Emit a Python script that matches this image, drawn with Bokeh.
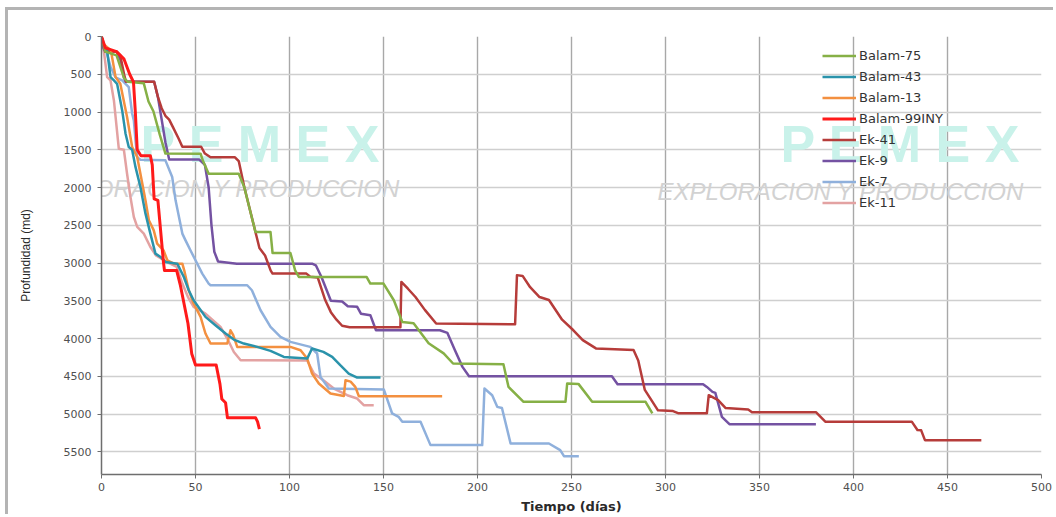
from bokeh.plotting import figure
from bokeh.models import Range1d, Legend, LegendItem, Label, FixedTicker
from bokeh.embed import file_html
from bokeh.resources import INLINE

# ---- data (days, measured depth md) ----
balam75_t = [0, 2, 8, 12, 14, 22.5, 25, 27.6, 31, 34, 52.7, 54, 57, 73, 76, 79, 81.9, 89.9, 91, 100.5, 103, 105,
             141, 143, 150, 155.5, 160, 166, 174, 182, 187, 213.8, 216.5, 224.5, 246.8, 247.7, 253.7, 261, 289.4, 293]
balam75_d = [0, 200, 250, 550, 600, 620, 860, 990, 1300, 1550, 1552, 1650, 1817, 1817, 2000, 2300, 2589, 2589, 2867, 2867, 3096, 3184,
             3184, 3272, 3272, 3493, 3780, 3797, 4063, 4196, 4330, 4340, 4640, 4838, 4838, 4595, 4600, 4838, 4838, 4992]

balam43_t = [0, 1, 3, 4.8, 6.6, 8.3, 11, 12.8, 14.5, 16.3, 18.1, 20.7, 23.4, 26, 28.7, 31.4, 34, 40.3, 43.8, 46.4, 49,
             55.3, 60.6, 66, 70.4, 75.7, 82.8, 89.9, 97, 109.4, 112, 118, 122.7, 127, 131.5, 136, 148.4]
balam43_d = [0, 100, 185, 538, 582, 626, 979, 1288, 1464, 1500, 1730, 1993, 2346, 2610, 2875, 2919, 2985, 3008, 3184, 3360, 3493,
             3713, 3823, 3933, 4013, 4066, 4110, 4163, 4243, 4265, 4132, 4176, 4243, 4353, 4463, 4516, 4516]

balam13_t = [0, 1, 5, 7.5, 10, 13.6, 16.3, 19, 20.7, 23.4, 25.2, 27.8, 29.6, 33, 35, 38.5, 43, 44, 46.4, 49, 52.7, 55.3, 58,
             66.9, 68.6, 70, 72.2, 100.5, 105.9, 109.4, 112, 115.6, 121.8, 128.9, 129.8, 132.5, 135, 136.9, 181.2]
balam13_d = [0, 100, 185, 538, 626, 1067, 1464, 1596, 1817, 2170, 2434, 2567, 2743, 2831, 2963, 3008, 3008, 3096, 3360, 3536, 3713, 3933, 4066,
             4066, 3890, 3950, 4110, 4110, 4154, 4265, 4463, 4595, 4728, 4760, 4552, 4570, 4640, 4763, 4763]

balam99_t = [0, 2, 8, 12, 15, 17, 18, 19, 21, 26, 27, 28, 30, 33, 33.5, 40, 42, 46, 48, 50, 61, 63, 64, 66, 67, 82, 83, 84]
balam99_d = [0, 150, 200, 300, 500, 600, 1000, 1500, 1580, 1580, 1700, 2150, 2170, 3000, 3100, 3100, 3300, 3800, 4200, 4350, 4350,
             4600, 4800, 4850, 5050, 5050, 5100, 5200]

ek41_t = [0, 1, 2, 8, 10, 12, 13, 28, 30, 32, 34, 36, 38, 41, 43, 53, 55, 58, 71, 73, 76, 81, 84, 87, 90, 91, 109, 111, 115,
          119, 122, 125, 128, 132, 159, 159.5, 163, 167, 172, 178, 220, 221, 224, 228, 233, 238, 245, 251, 256, 263, 283,
          285.5, 289, 296, 304, 307, 322, 323, 328, 332, 344, 346, 380, 385, 431, 434, 436, 438, 468]
ek41_d = [0, 100, 200, 200, 250, 500, 600, 600, 800, 950, 1050, 1100, 1200, 1350, 1460, 1460, 1550, 1600, 1600, 1650, 2000, 2500,
          2800, 2900, 3100, 3140, 3140, 3180, 3190, 3490, 3650, 3750, 3830, 3850, 3850, 3250, 3340, 3450, 3620, 3800, 3810, 3160,
          3170, 3320, 3450, 3490, 3750, 3890, 4020, 4130, 4150, 4290, 4680, 4950, 4960, 4990, 4990, 4750, 4816, 4920, 4940, 4975,
          4975, 5100, 5100, 5210, 5215, 5345, 5345]

ek9_t = [0, 1, 2, 8, 10, 12, 13, 28, 30, 32, 34, 36, 52, 55, 57, 58.5, 60, 62, 72, 112, 114, 117, 122, 128, 131, 136, 138,
         143, 146, 180, 184, 188, 192, 195.5, 271.5, 274.5, 320, 322, 325, 326.5, 330, 334, 380]
ek9_d = [0, 150, 200, 200, 300, 550, 600, 600, 800, 1100, 1400, 1630, 1630, 1700, 2000, 2500, 2850, 2980, 3008, 3008, 3030, 3184,
         3500, 3510, 3572, 3580, 3670, 3690, 3890, 3890, 3925, 4154, 4375, 4500, 4500, 4604, 4604, 4640, 4706, 4720, 5036, 5133, 5133]

ek7_t = [0, 2, 4.8, 7.4, 11, 14.5, 16.3, 17.2, 18.1, 19, 20.7, 34, 37.6, 39.4, 43, 44.7, 47.3, 50, 53.6, 57, 58, 77.5, 80,
         84.6, 89.9, 95.2, 100.5, 111, 114.7, 116.5, 120.9, 150.2, 154.6, 158, 160, 169.7, 175, 202.5, 203.7, 207.8, 210.5,
         213, 217.6, 238, 244, 246, 253.9]
ek7_d = [0, 150, 400, 540, 580, 670, 1020, 1110, 1380, 1600, 1632, 1640, 1861, 2170, 2610, 2700, 2831, 2963, 3140, 3272, 3294,
         3294, 3360, 3625, 3846, 3978, 4044, 4110, 4198, 4507, 4662, 4675, 4992, 5036, 5102, 5102, 5411, 5411, 4662, 4750, 4904,
         4920, 5389, 5389, 5477, 5557, 5557]

ek11_t = [0, 0.5, 1.2, 3, 4.8, 6.6, 9.2, 11.9, 13.6, 15.4, 17.2, 19, 22.5, 26, 29, 32.3, 36, 40, 43, 46, 49, 55.3, 63.3,
          66.9, 70.4, 74, 109.4, 113, 118, 123.6, 130.7, 136, 139.5, 144.8]
ek11_d = [0, 100, 185, 538, 582, 847, 1486, 1500, 1817, 2125, 2390, 2522, 2610, 2787, 2900, 2950, 3000, 3050, 3272, 3450, 3581,
          3669, 3846, 4000, 4177, 4287, 4290, 4463, 4552, 4662, 4750, 4794, 4882, 4882]

names = ["Balam-75", "Balam-43", "Balam-13", "Balam-99INY", "Ek-41", "Ek-9", "Ek-7", "Ek-11"]
series_t = [balam75_t, balam43_t, balam13_t, balam99_t, ek41_t, ek9_t, ek7_t, ek11_t]
series_d = [balam75_d, balam43_d, balam13_d, balam99_d, ek41_d, ek9_d, ek7_d, ek11_d]
colors = ["#86b046", "#2a93ab", "#f39040", "#ff1a1a", "#b63c3a", "#7452a2", "#8fb0dc", "#e3a2a2"]
widths = [2.5, 2.5, 2.5, 3.0, 2.5, 2.5, 2.5, 2.5]

x_ticks = list(range(0, 501, 50))
y_ticks = list(range(0, 5501, 500))

p = figure(width=1048, height=507, output_backend="svg", toolbar_location=None,
           x_range=Range1d(0, 500), y_range=Range1d(5800, 0),
           min_border_left=93, min_border_right=15, min_border_top=26, min_border_bottom=43)
p.styles = {"border-left": "3px solid #b4b4b4", "border-top": "3px solid #b4b4b4",
            "margin-left": "5px", "margin-top": "7px"}
p.outline_line_color = None
p.background_fill_color = "white"
p.border_fill_color = "white"

# grid
p.xgrid.ticker = FixedTicker(ticks=x_ticks)
p.ygrid.ticker = FixedTicker(ticks=y_ticks)
p.xgrid.grid_line_color = "#a8a8a8"
p.xgrid.grid_line_width = 1.4
p.ygrid.grid_line_color = "#cfcfcf"
p.ygrid.grid_line_width = 1.4

# axes
for ax in (p.xaxis[0], p.yaxis[0]):
    ax.axis_line_color = "#6e6e6e"
    ax.axis_line_width = 1.5
    ax.major_tick_line_color = "#6e6e6e"
    ax.minor_tick_line_color = None
    ax.major_tick_in = 0
    ax.major_tick_out = 4
    ax.major_label_text_font = "DejaVu Sans"
    ax.major_label_text_font_size = "11px"
    ax.major_label_text_color = "#505050"
    ax.axis_label_text_color = "#2a2a2a"
p.xaxis.ticker = FixedTicker(ticks=x_ticks)
p.yaxis.ticker = FixedTicker(ticks=y_ticks)
p.xaxis.major_label_standoff = 4
p.yaxis.major_label_standoff = 6
p.xaxis.axis_label = "Tiempo (días)"
p.xaxis.axis_label_text_font = "DejaVu Sans"
p.xaxis.axis_label_text_font_style = "bold"
p.xaxis.axis_label_text_font_size = "13px"
p.xaxis.axis_label_standoff = 5
p.yaxis.axis_label = "Profundidad (md)"
p.yaxis.axis_label_text_font = "Liberation Sans"
p.yaxis.axis_label_text_font_style = "normal"
p.yaxis.axis_label_text_font_size = "12px"
p.yaxis.axis_label_standoff = 28

# watermark (decorative, screen units relative to the plot frame)
wm = [("P E M E X", 39, 302, "#c9f2ea", "52px", "bold"),
      ("P E M E X", 679, 302, "#c9f2ea", "52px", "bold"),
      ("EXPLORACION Y PRODUCCION", -68, 273, "#d2d2d2", "24px", "italic"),
      ("EXPLORACION Y PRODUCCION", 556, 270, "#d2d2d2", "24px", "italic")]
for txt, x, y, c, fs, st in wm:
    p.add_layout(Label(x=x, y=y, x_units="screen", y_units="screen", text=txt, text_color=c,
                       text_font="Liberation Sans",
                       text_font_size=fs, text_font_style=st, text_baseline="bottom",
                       text_align="left", level="underlay"))

renderers = {}
draw_order = [7, 6, 5, 4, 2, 1, 0, 3]
for i in draw_order:
    renderers[i] = p.line(series_t[i], series_d[i], line_color=colors[i], line_width=widths[i],
                          line_join="round")

items = [LegendItem(label=names[i], renderers=[renderers[i]]) for i in range(len(names))]
legend = Legend(items=items, location=(721, 261), orientation="vertical",
                glyph_width=34, glyph_height=21, label_height=21, spacing=0,
                label_standoff=3, padding=0, margin=0,
                border_line_color=None, background_fill_alpha=0,
                label_text_font="DejaVu Sans", label_text_font_size="13px",
                label_text_color="#333333")
p.add_layout(legend)

open("out.html", "w").write(file_html(p, INLINE))
